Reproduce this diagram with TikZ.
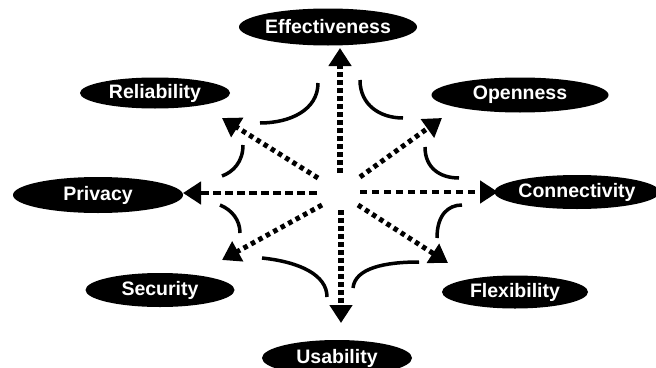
\documentclass[tikz,border=0pt]{standalone}
\usepackage{fontspec}
\setmainfont{Liberation Sans}
\usetikzlibrary{shapes.geometric,arrows.meta}
\begin{document}
\begin{tikzpicture}[x=1pt,y=-1pt,
  lbl/.style={ellipse,fill=black,inner sep=0pt,text=white,font=\fontsize{19.5}{21}\selectfont\bfseries},
  tip/.style={-{Triangle[length=18pt,width=22pt]}},
  vdot/.style={tip,line width=5.5pt,dash pattern=on 5pt off 3pt},
  ddot/.style={tip,line width=5pt,dash pattern=on 4.5pt off 4pt},
  hdash/.style={tip,line width=4.5pt,dash pattern=on 8pt off 4pt},
  curve/.style={line width=3.5pt}]
\useasboundingbox (0,0) rectangle (656,367);
% labels
\node[lbl,minimum width=178pt,minimum height=37pt] (eff) at (328,27) {Effectiveness};
\node[lbl,minimum width=150pt,minimum height=31pt] (rel) at (155,93) {Reliability};
\node[lbl,minimum width=177pt,minimum height=35pt] (ope) at (520,95) {Openness};
\node[lbl,minimum width=170pt,minimum height=36pt] (pri) at (98,195) {Privacy};
\node[lbl,minimum width=158pt,minimum height=34pt] (con) at (577,192) {Connectivity};
\node[lbl,minimum width=149pt,minimum height=34pt] (sec) at (160,290) {Security};
\node[lbl,minimum width=146pt,minimum height=33pt] (fle) at (515,292) {Flexibility};
\node[lbl,minimum width=150pt,minimum height=36pt] (usa) at (337,358) {Usability};
% arrow start points
\coordinate (sU) at (340,173);
\coordinate (sD) at (341,210);
\coordinate (sL) at (317,193);
\coordinate (sR) at (360,192);
\coordinate (sUL) at (318,178);
\coordinate (sUR) at (360,177);
\coordinate (sDL) at (322,205);
\coordinate (sDR) at (358,205);
% arrow tips
\coordinate (tU) at (340,48);
\coordinate (tD) at (341,323);
\coordinate (tL) at (183,193);
\coordinate (tR) at (498,192);
\coordinate (tUL) at (222,118);
\coordinate (tUR) at (442,118);
\coordinate (tDL) at (222,260);
\coordinate (tDR) at (448,263);
% arrows
\draw[vdot] (sU) -- (tU);
\draw[vdot] (sD) -- (tD);
\draw[hdash] (sL) -- (tL);
\draw[hdash,dash pattern=on 7pt off 5pt] (sR) -- (tR);
\draw[ddot] (sUL) -- (tUL);
\draw[ddot] (sUR) -- (tUR);
\draw[ddot] (sDL) -- (tDL);
\draw[ddot] (sDR) -- (tDR);
% curved connectors
\draw[curve] (318,83) .. controls (318,110) and (290,123) .. (260,123);
\draw[curve] (360,80) .. controls (360,105) and (380,118) .. (403,118);
\draw[curve] (243,145) .. controls (243,162) and (233,172) .. (222,176);
\draw[curve] (220,205) .. controls (232,210) and (240,220) .. (240,233);
\draw[curve] (262,258) .. controls (300,262) and (327,275) .. (327,297);
\draw[curve] (353,288) .. controls (355,268) and (385,262) .. (419,262);
\draw[curve] (437,238) .. controls (437,215) and (448,205) .. (462,205);
\draw[curve] (425,147) .. controls (425,168) and (440,178) .. (459,178);
\end{tikzpicture}
\end{document}
